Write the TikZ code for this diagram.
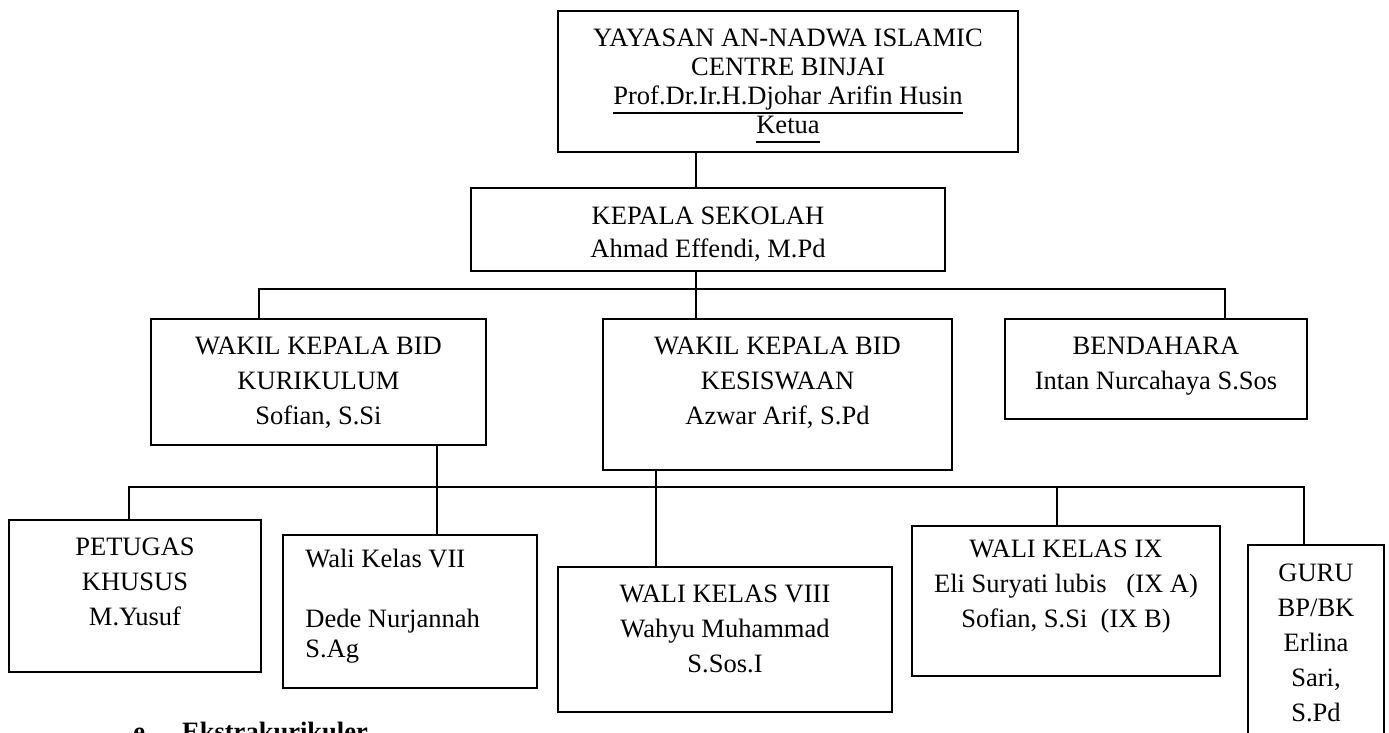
\documentclass[tikz,border=0pt]{standalone}
\usepackage{fontspec}
\setmainfont{Liberation Serif}
\usetikzlibrary{
  fit,
  calc
}
\newcommand\ulname[1]{\setbox0\hbox{#1}\rlap{\rule[-5pt]{\wd0}{0.9pt}}\box0}
\tikzset{
  org box/.style={
    draw,
    line width=0.9pt,
    inner sep=0pt
  },
  org text/.style={
    align=center,
    anchor=north,
    inner sep=0pt,
    font=\fontsize{15.1}{#1}\selectfont
  },
  org text/.default=19.9,
  link/.style={
    line width=0.9pt
  }
}

\begin{document}
\begin{tikzpicture}[x=0.02cm, y=-0.02cm]
  \useasboundingbox (0,0) rectangle (1389,733);
  % kotak
  \node[org box, fit={(558,11) (1018,152)}] (yayasan) {};
  \node[org box, fit={(471,188) (945,271)}] (kepsek) {};
  \node[org box, fit={(151,319) (486,445)}] (wakakur) {};
  \node[org box, fit={(603,319) (952,470)}] (wakasis) {};
  \node[org box, fit={(1005,319) (1307,419)}] (bendahara) {};
  \node[org box, fit={(9,520) (261,672)}] (petugas) {};
  \node[org box, fit={(283,535) (537,688)}] (walitujuh) {};
  \node[org box, fit={(558,567) (892,712)}] (walidelapan) {};
  \node[org box, fit={(912,526) (1220,676)}] (walisembilan) {};
  \node[org box, fit={(1248,545) (1384,770)}] (gurubk) {};
  % teks
  \node[org text=16.5] (yayasan-txt) at (788,29) {YAYASAN AN-NADWA ISLAMIC\\CENTRE BINJAI\\\ulname{Prof.Dr.Ir.H.Djohar Arifin Husin}\\\ulname{Ketua}};
  \node[org text=18.8] (kepsek-txt) at (708,207) {KEPALA SEKOLAH\\Ahmad Effendi, M.Pd};
  \node[org text] (wakakur-txt) at (318.5,337) {WAKIL KEPALA BID\\KURIKULUM\\Sofian, S.Si};
  \node[org text] (wakasis-txt) at (777.5,337) {WAKIL KEPALA BID\\KESISWAAN\\Azwar Arif, S.Pd};
  \node[org text] (bendahara-txt) at (1156,337) {BENDAHARA\\Intan Nurcahaya S.Sos};
  \node[org text] (petugas-txt) at (135,538) {PETUGAS\\KHUSUS\\M.Yusuf};
  \node[org text=17.1, align=left, anchor=north west] (walitujuh-txt) at (305,549) {Wali Kelas VII\\[17.1pt]Dede Nurjannah\\S.Ag};
  \node[org text] (walidelapan-txt) at (725,585) {WALI KELAS VIII\\Wahyu Muhammad\\S.Sos.I};
  \node[org text] (walisembilan-txt) at (1066,540) {WALI KELAS IX\\Eli Suryati lubis\ \ \ (IX A)\\Sofian, S.Si\ \ (IX B)};
  \node[org text] (gurubk-txt) at (1316,564) {GURU\\BP/BK\\Erlina\\Sari,\\S.Pd};
  \node[anchor=base west, inner sep=0pt, font=\fontsize{15.1}{18}\selectfont\bfseries] (ekstra) at (133,740) {e.\hspace{17.3pt}Ekstrakurikuler};
  % garis
  \coordinate (trunk) at (696,0);
  \coordinate (busA) at (0,289);
  \coordinate (busB) at (0,487);
  \coordinate (dKur) at (259,0);
  \coordinate (dBen) at (1225,0);
  \coordinate (dTujuh) at (437,0);
  \coordinate (dDelapan) at (656,0);
  \coordinate (dPet) at (129,0);
  \coordinate (dSembilan) at (1057,0);
  \coordinate (dGuru) at (1304,0);
  \draw[link] (yayasan.south -| trunk) -- (kepsek.north -| trunk);
  \draw[link] (kepsek.south -| trunk) -- (wakasis.north -| trunk);
  \draw[link] (wakakur.north -| dKur) -- (dKur |- busA) -- (dBen |- busA) -- (bendahara.north -| dBen);
  \draw[link] (wakakur.south -| dTujuh) -- (walitujuh.north -| dTujuh);
  \draw[link] (wakasis.south -| dDelapan) -- (walidelapan.north -| dDelapan);
  \draw[link] (petugas.north -| dPet) -- (dPet |- busB) -- (dGuru |- busB) -- (gurubk.north -| dGuru);
  \draw[link] (dSembilan |- busB) -- (walisembilan.north -| dSembilan);
\end{tikzpicture}
\end{document}
